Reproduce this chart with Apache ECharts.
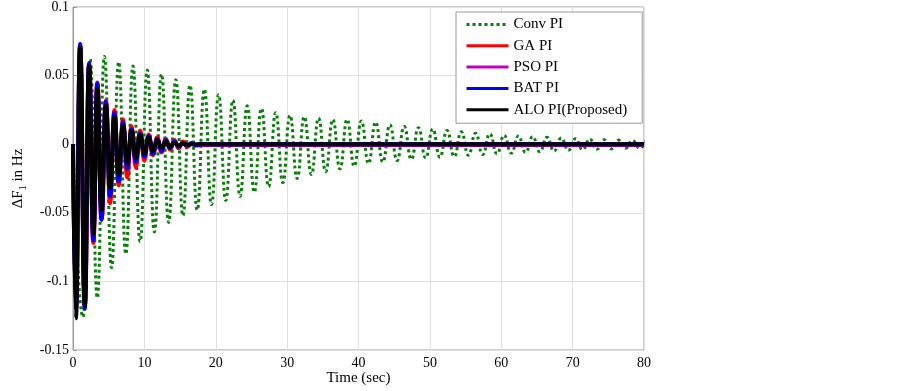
<!DOCTYPE html>
<html>
<head>
<meta charset="utf-8">
<script src="https://cdn.jsdelivr.net/npm/echarts@6/dist/echarts.min.js"></script>
<style>
  html, body { margin: 0; padding: 0; background: #fff; }
  #chart { width: 903px; height: 391px; }
</style>
</head>
<body>
<div id="chart"></div>
<script>
// 坐标轴范围
const xMin = 0, xMax = 80, xStep = 10;
const yMin = -0.15, yMax = 0.1, yStep = 0.05;

// 图例名称
const seriesNames = ['Conv PI', 'GA PI', 'PSO PI', 'BAT PI', 'ALO PI(Proposed)'];

// Conv PI：读图得到的极值点（时间, 幅值）
const convTime = [0, 1.4, 2.4, 3.4, 4.4, 5.4, 6.4, 7.4, 8.4, 9.4, 10.4, 11.4, 12.4, 13.4, 14.4, 15.4,
    16.4, 17.4, 18.4, 19.4, 20.4, 21.4, 22.4, 23.4, 24.4, 25.4, 26.4, 27.4, 28.4, 29.4, 30.4,
    31.4, 32.4, 33.4, 34.4, 35.4, 36.4, 37.4, 38.4, 39.4, 40.4, 41.4, 42.4, 43.4, 44.4, 45.4,
    46.4, 47.4, 48.4, 49.4, 50.4, 51.4, 52.4, 53.4, 54.4, 55.4, 56.4, 57.4, 58.4, 59.4, 60.4,
    61.4, 62.4, 63.4, 64.4, 65.4, 66.4, 67.4, 68.4, 69.4, 70.4, 71.4, 72.4, 73.4, 74.4, 75.4,
    76.4, 77.4, 78.4, 79.4, 80];
const convVal = [0, -0.126, 0.062, -0.112, 0.064, -0.090, 0.060, -0.080, 0.057, -0.071, 0.054, -0.064,
    0.051, -0.057, 0.047, -0.052, 0.043, -0.048, 0.040, -0.044, 0.036, -0.041, 0.032, -0.038, 0.028,
    -0.035, 0.026, -0.031, 0.023, -0.028, 0.021, -0.025, 0.020, -0.022, 0.019, -0.020, 0.018, -0.018,
    0.018, -0.016, 0.017, -0.014, 0.016, -0.013, 0.014, -0.012, 0.013, -0.011, 0.012, -0.010, 0.011,
    -0.0095, 0.010, -0.009, 0.009, -0.008, 0.008, -0.0075, 0.0075, -0.007, 0.0065, -0.0065, 0.006,
    -0.006, 0.0055, -0.0055, 0.005, -0.005, 0.0045, -0.0045, 0.004, -0.004, 0.0037, -0.0037, 0.0033,
    -0.0034, 0.003, -0.003, 0.0027, -0.003, 0];

// 优化控制器：极值点时间
const optTime = [0, 0.4, 1.0, 1.65, 2.25, 2.85, 3.4, 4.0, 4.6, 5.2, 5.8, 6.4, 7.0, 7.6, 8.2, 8.8, 9.4,
    10.0, 10.6, 11.2, 11.8, 12.4, 13.0, 13.6, 14.2, 14.8, 15.4, 16.0, 16.6, 17.2, 18.0, 80];
const gaVal = [0, -0.121, 0.072, -0.118, 0.058, -0.072, 0.045, -0.055, 0.032, -0.043, 0.025, -0.030,
    0.018, -0.024, 0.013, -0.017, 0.010, -0.012, 0.007, -0.008, 0.005, -0.006, 0.004, -0.004, 0.003,
    -0.003, 0.002, -0.002, 0.001, -0.001, 0, 0];
const psoVal = [0, -0.121, 0.073, -0.119, 0.058, -0.069, 0.043, -0.053, 0.030, -0.037, 0.022, -0.026,
    0.016, -0.018, 0.011, -0.013, 0.008, -0.009, 0.006, -0.007, 0.004, -0.005, 0.003, -0.003, 0.002,
    -0.002, 0.001, -0.0015, 0.0005, -0.001, -0.0008, -0.0008];
const batVal = [0, -0.121, 0.073, -0.120, 0.059, -0.070, 0.044, -0.055, 0.031, -0.038, 0.023, -0.027,
    0.016, -0.018, 0.011, -0.013, 0.008, -0.009, 0.006, -0.007, 0.004, -0.005, 0.003, -0.003, 0.002,
    -0.002, 0.001, -0.001, 0.0005, -0.0005, 0, 0];
const aloVal = [0, -0.127, 0.071, -0.118, 0.057, -0.065, 0.040, -0.048, 0.028, -0.032, 0.020, -0.022,
    0.014, -0.014, 0.010, -0.010, 0.007, -0.007, 0.005, -0.005, 0.003, -0.003, 0.002, -0.002, 0.001,
    -0.001, 0.0005, -0.0005, 0, 0, 0, 0];

const toPairs = (ts, vs) => ts.map((t, i) => [t, vs[i]]);

const chart = echarts.init(document.getElementById('chart'), null, { renderer: 'canvas' });
const serif = 'Liberation Serif, Times New Roman, serif';

// 公共的折线样式
function lineSeries(name, color, width, ts, vs, extra) {
    return Object.assign({
        name: name, type: 'line', symbol: 'none',
        smooth: 0.5, smoothMonotone: 'x',
        lineStyle: { color: color, width: width },
        itemStyle: { color: color },
        data: toPairs(ts, vs)
    }, extra || {});
}

chart.setOption({
    animation: false,
    backgroundColor: '#fff',
    textStyle: { fontFamily: serif },
    grid: {
        left: 73, right: 259, top: 5, bottom: 38,
        show: true, borderColor: '#9a9a9a', borderWidth: 1, backgroundColor: 'transparent'
    },
    legend: {
        orient: 'vertical',
        left: 456, top: 12,
        padding: [5, 15, 6, 9],
        itemWidth: 42, itemHeight: 14, itemGap: 6.3,
        backgroundColor: '#fff',
        borderColor: '#9a9a9a', borderWidth: 1, borderRadius: 0,
        itemStyle: { opacity: 0 },
        lineStyle: { width: 3 },
        textStyle: { fontFamily: serif, fontSize: 15, color: '#000' },
        data: seriesNames
    },
    xAxis: {
        type: 'value', min: xMin, max: xMax, interval: xStep,
        name: 'Time (sec)', nameLocation: 'middle', nameGap: 21, nameMoveOverlap: false,
        nameTextStyle: { fontFamily: serif, fontSize: 15, color: '#000' },
        axisLine: { show: true, lineStyle: { color: '#9a9a9a' } },
        axisTick: { show: true, inside: true, length: 4, lineStyle: { color: '#9a9a9a' } },
        axisLabel: { fontFamily: serif, fontSize: 14, color: '#000', margin: 6 },
        splitLine: { show: true, lineStyle: { color: '#e0e0e0', width: 1 } }
    },
    yAxis: {
        type: 'value', min: yMin, max: yMax, interval: yStep,
        name: '{d|ΔF}{s|1}{d| in Hz}', nameLocation: 'middle', nameGap: 45, nameMoveOverlap: false,
        nameTextStyle: {
            color: '#000',
            rich: {
                d: { fontFamily: serif, fontSize: 15, color: '#000' },
                s: { fontFamily: serif, fontSize: 10, color: '#000', padding: [9, 0, 0, 0] }
            }
        },
        axisLine: { show: true, lineStyle: { color: '#9a9a9a' } },
        axisTick: { show: true, inside: true, length: 4, lineStyle: { color: '#9a9a9a' } },
        axisLabel: {
            fontFamily: serif, fontSize: 14, color: '#000', margin: 4,
            formatter: v => String(+v.toFixed(2))
        },
        splitLine: { show: true, lineStyle: { color: '#e0e0e0', width: 1 } }
    },
    series: [
        lineSeries(seriesNames[0], '#0a7d0a', 3, convTime, convVal, {
            lineStyle: { color: '#0a7d0a', width: 3, type: [3, 3], cap: 'butt' }
        }),
        lineSeries(seriesNames[1], '#ff0000', 4, optTime, gaVal),
        lineSeries(seriesNames[2], '#bf00bf', 3.5, optTime, psoVal),
        lineSeries(seriesNames[3], '#0000ff', 4, optTime, batVal),
        lineSeries(seriesNames[4], '#000000', 4, optTime, aloVal)
    ]
});
</script>
</body>
</html>
